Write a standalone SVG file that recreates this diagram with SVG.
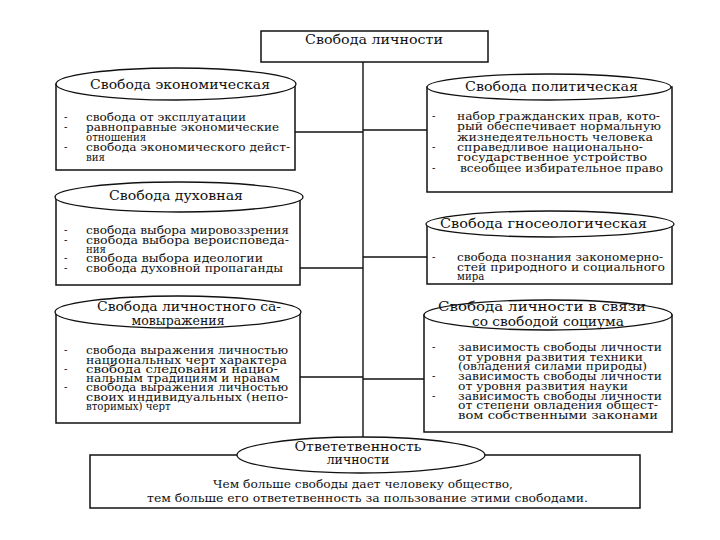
<svg xmlns="http://www.w3.org/2000/svg" width="720" height="540" viewBox="0 0 720 540">
<style>
.box{fill:#fff;stroke:#111;stroke-width:1.5}
.ell{fill:#fff;stroke:#111;stroke-width:1.3}
.ln{stroke:#111;stroke-width:1.4;fill:none}
text{font-family:"DejaVu Serif","Liberation Serif",serif;fill:#111}
.t{font-size:12.5px}
.i{font-size:10.2px}
.d{font-size:10.2px}
.b{font-size:11.2px}
</style>
<rect width="720" height="540" fill="#fff"/>
<g id="connectors">
<line class="ln" x1="363" y1="62" x2="363" y2="437"/>
<line class="ln" x1="295" y1="132" x2="363" y2="132"/>
<line class="ln" x1="300" y1="268" x2="363" y2="268"/>
<line class="ln" x1="300" y1="377" x2="363" y2="377"/>
<line class="ln" x1="363" y1="130" x2="427" y2="130"/>
<line class="ln" x1="363" y1="257" x2="427" y2="257"/>
<line class="ln" x1="363" y1="379" x2="424" y2="379"/>
</g>
<g id="top">
<rect class="box" x="261" y="31" width="227" height="31"/>
<text class="t" x="305" y="44" textLength="138" lengthAdjust="spacingAndGlyphs">Свобода личности</text>
</g>
<g id="econ">
<rect class="box" x="56" y="84" width="239" height="86"/>
<ellipse class="ell" cx="176" cy="84" rx="120" ry="16"/>
<text class="t" x="90" y="89" textLength="180" lengthAdjust="spacingAndGlyphs">Свобода экономическая</text>
<text class="d" x="64" y="121">-</text><text class="d" x="64" y="131">-</text><text class="d" x="64" y="151">-</text>
<text class="i" x="86" y="121" textLength="160" lengthAdjust="spacingAndGlyphs">свобода от эксплуатации</text>
<text class="i" x="86" y="131" textLength="193" lengthAdjust="spacingAndGlyphs">равноправные экономические</text>
<text class="i" x="86" y="141">отношения</text>
<text class="i" x="86" y="151" textLength="204" lengthAdjust="spacingAndGlyphs">свобода экономического дейст-</text>
<text class="i" x="86" y="161">вия</text>
</g>
<g id="spirit">
<rect class="box" x="56" y="197" width="244" height="88"/>
<ellipse class="ell" cx="179" cy="197" rx="124" ry="15"/>
<text class="t" x="109" y="200" textLength="134" lengthAdjust="spacingAndGlyphs">Свобода духовная</text>
<text class="d" x="64" y="234">-</text><text class="d" x="64" y="244">-</text><text class="d" x="64" y="262">-</text><text class="d" x="64" y="272">-</text>
<text class="i" x="86" y="234" textLength="203" lengthAdjust="spacingAndGlyphs">свобода выбора мировоззрения</text>
<text class="i" x="86" y="244" textLength="203" lengthAdjust="spacingAndGlyphs">свобода выбора вероисповеда-</text>
<text class="i" x="86" y="253">ния</text>
<text class="i" x="86" y="262" textLength="177" lengthAdjust="spacingAndGlyphs">свобода выбора идеологии</text>
<text class="i" x="86" y="272" textLength="197" lengthAdjust="spacingAndGlyphs">свобода духовной пропаганды</text>
</g>
<g id="self">
<rect class="box" x="56" y="312" width="244" height="111"/>
<ellipse class="ell" cx="178" cy="312" rx="123" ry="16"/>
<text class="t" x="97" y="311" textLength="184" lengthAdjust="spacingAndGlyphs">Свобода личностного са-</text>
<text class="t" x="178" y="325" text-anchor="middle">мовыражения</text>
<text class="d" x="64" y="354">-</text><text class="d" x="64" y="373">-</text><text class="d" x="64" y="391">-</text>
<text class="i" x="86" y="354" textLength="202" lengthAdjust="spacingAndGlyphs">свобода выражения личностью</text>
<text class="i" x="86" y="363.5" textLength="201" lengthAdjust="spacingAndGlyphs">национальных черт характера</text>
<text class="i" x="86" y="373" textLength="192" lengthAdjust="spacingAndGlyphs">свобода следования нацио-</text>
<text class="i" x="86" y="382" textLength="194" lengthAdjust="spacingAndGlyphs">нальным традициям и нравам</text>
<text class="i" x="86" y="391" textLength="202" lengthAdjust="spacingAndGlyphs">свобода выражения личностью</text>
<text class="i" x="86" y="400.5" textLength="202" lengthAdjust="spacingAndGlyphs">своих индивидуальных (непо-</text>
<text class="i" x="86" y="410">вторимых) черт</text>
</g>
<g id="polit">
<rect class="box" x="427" y="87" width="245" height="105"/>
<ellipse class="ell" cx="549" cy="87" rx="122" ry="13"/>
<text class="t" x="465" y="91" textLength="173" lengthAdjust="spacingAndGlyphs">Свобода политическая</text>
<text class="d" x="432" y="120">-</text><text class="d" x="432" y="151">-</text><text class="d" x="432" y="172">-</text>
<text class="i" x="457" y="120" textLength="203" lengthAdjust="spacingAndGlyphs">набор гражданских прав, кото-</text>
<text class="i" x="457" y="130" textLength="204" lengthAdjust="spacingAndGlyphs">рый обеспечивает нормальную</text>
<text class="i" x="457" y="141" textLength="196" lengthAdjust="spacingAndGlyphs">жизнедеятельность человека</text>
<text class="i" x="457" y="151" textLength="186" lengthAdjust="spacingAndGlyphs">справедливое национально-</text>
<text class="i" x="457" y="161" textLength="190" lengthAdjust="spacingAndGlyphs">государственное устройство</text>
<text class="i" x="460" y="172" textLength="203" lengthAdjust="spacingAndGlyphs">всеобщее избирательное право</text>
</g>
<g id="gnoseo">
<rect class="box" x="427" y="224" width="245" height="60"/>
<ellipse class="ell" cx="550" cy="224" rx="124" ry="13"/>
<text class="t" x="440" y="228" textLength="207" lengthAdjust="spacingAndGlyphs">Свобода гносеологическая</text>
<text class="d" x="432" y="261">-</text>
<text class="i" x="457" y="261" textLength="206" lengthAdjust="spacingAndGlyphs">свобода познания закономерно-</text>
<text class="i" x="457" y="271" textLength="208" lengthAdjust="spacingAndGlyphs">стей природного и социального</text>
<text class="i" x="457" y="280">мира</text>
</g>
<g id="social">
<rect class="box" x="424" y="315" width="248" height="117"/>
<ellipse class="ell" cx="548" cy="315" rx="124" ry="15"/>
<text class="t" x="438" y="311" textLength="208" lengthAdjust="spacingAndGlyphs">Свобода личности в связи</text>
<text class="t" x="548" y="326" text-anchor="middle" textLength="152" lengthAdjust="spacingAndGlyphs">со свободой социума</text>
<text class="d" x="432" y="351">-</text><text class="d" x="432" y="380">-</text><text class="d" x="432" y="400">-</text>
<text class="i" x="458" y="351" textLength="204" lengthAdjust="spacingAndGlyphs">зависимость свободы личности</text>
<text class="i" x="458" y="361" textLength="185" lengthAdjust="spacingAndGlyphs">от уровня развития техники</text>
<text class="i" x="458" y="370" textLength="189" lengthAdjust="spacingAndGlyphs">(овладения силами природы)</text>
<text class="i" x="458" y="380" textLength="204" lengthAdjust="spacingAndGlyphs">зависимость свободы личности</text>
<text class="i" x="458" y="390" textLength="170" lengthAdjust="spacingAndGlyphs">от уровня развития науки</text>
<text class="i" x="458" y="400" textLength="204" lengthAdjust="spacingAndGlyphs">зависимость свободы личности</text>
<text class="i" x="458" y="409" textLength="200" lengthAdjust="spacingAndGlyphs">от степени овладения общест-</text>
<text class="i" x="458" y="419" textLength="200" lengthAdjust="spacingAndGlyphs">вом собственными законами</text>
</g>
<g id="resp">
<rect class="box" x="90" y="455" width="550" height="53"/>
<ellipse class="ell" cx="361" cy="455" rx="124" ry="18"/>
<text class="t" x="358" y="451" text-anchor="middle" textLength="127" lengthAdjust="spacingAndGlyphs">Ответетвенность</text>
<text class="t" x="358" y="464" text-anchor="middle">личности</text>
<text class="b" x="213" y="488" textLength="300" lengthAdjust="spacingAndGlyphs">Чем больше свободы дает человеку общество,</text>
<text class="b" x="147" y="502" textLength="441" lengthAdjust="spacingAndGlyphs">тем больше его ответетвенность за пользование этими свободами.</text>
</g>
</svg>
